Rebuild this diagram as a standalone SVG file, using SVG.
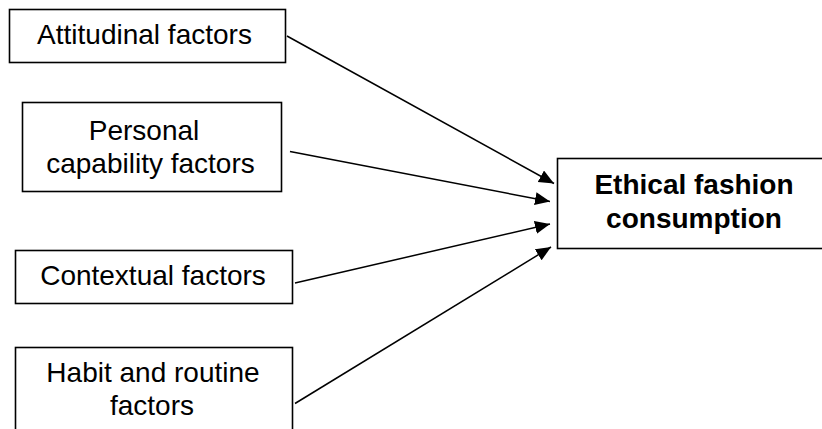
<svg xmlns="http://www.w3.org/2000/svg" width="822" height="429" viewBox="0 0 822 429">
  <defs>
    <style>
      .box { fill: #ffffff; stroke: #000000; stroke-width: 1.6; }
      .lbl { font-family: "Liberation Sans", Arial, sans-serif; font-size: 28px; fill: #000000; text-anchor: middle; }
      .bold { font-weight: bold; }
      .edge { fill: none; stroke: #000000; stroke-width: 1.5; marker-end: url(#head); }
    </style>
    <marker id="head" markerUnits="userSpaceOnUse" markerWidth="16" markerHeight="14" refX="15" refY="6.5" orient="auto">
      <path d="M0,0 L15,6.5 L0,13 z" fill="#000000"/>
    </marker>
  </defs>
  <rect width="822" height="429" fill="#ffffff"/>

  <g id="connectors">
    <line class="edge" x1="287" y1="36" x2="554" y2="183.5"/>
    <line class="edge" x1="290" y1="151.5" x2="550" y2="201.5"/>
    <line class="edge" x1="295" y1="283" x2="550" y2="224"/>
    <line class="edge" x1="295" y1="403.5" x2="551" y2="247"/>
  </g>

  <g id="attitudinal">
    <rect class="box" x="9.5" y="9.5" width="276" height="53"/>
    <text class="lbl" x="144.5" y="44">Attitudinal factors</text>
  </g>

  <g id="personal">
    <rect class="box" x="22.5" y="102.5" width="259" height="89"/>
    <text class="lbl" x="144" y="139.5">Personal</text>
    <text class="lbl" x="150.5" y="172.5">capability factors</text>
  </g>

  <g id="contextual">
    <rect class="box" x="15.5" y="250.5" width="277" height="53"/>
    <text class="lbl" x="153" y="285">Contextual factors</text>
  </g>

  <g id="habit">
    <rect class="box" x="15.5" y="347.5" width="277" height="100"/>
    <text class="lbl" x="153" y="381.5">Habit and routine</text>
    <text class="lbl" x="152" y="415">factors</text>
  </g>

  <g id="ethical">
    <rect class="box" x="557.5" y="158.5" width="280" height="90"/>
    <text class="lbl bold" x="694" y="194">Ethical fashion</text>
    <text class="lbl bold" x="694" y="227.5">consumption</text>
  </g>
</svg>
